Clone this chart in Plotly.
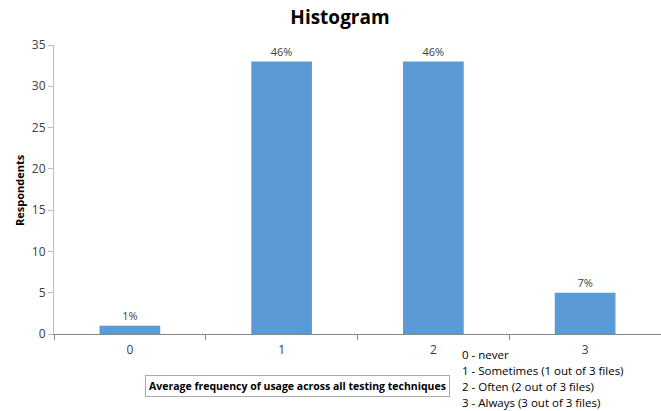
import plotly.graph_objects as go

categories = ["0", "1", "2", "3"]
respondents = [1, 33, 33, 5]
pct_labels = ["1%", "46%", "46%", "7%"]
legend_lines = [
    "0 - never",
    "1 - Sometimes (1 out of 3 files)",
    "2 - Often (2 out of 3 files)",
    "3 - Always (3 out of 3 files)",
]
y_ticks = [0, 5, 10, 15, 20, 25, 30, 35]

FONT = "Open Sans, Liberation Sans, sans-serif"

fig = go.Figure()
fig.add_trace(go.Bar(
    x=categories, y=respondents, text=pct_labels, textposition="outside",
    textfont=dict(size=11, color="#404040", family=FONT),
    marker=dict(color="#5B9BD5", line=dict(width=0)), width=0.4,
    cliponaxis=False,
))

W, H = 661, 411
L, R, T, B = 54, 0, 45, 77
pw, ph = W - L - R, H - T - B

def px_to_paper(x, y):
    return (x - L) / pw, (H - B - y) / ph

annotations = []
for i, line in enumerate(legend_lines):
    xp, yp = px_to_paper(460, 354 + i * 16)
    annotations.append(dict(text=line, x=xp, y=yp, xref="paper", yref="paper",
                            xanchor="left", yanchor="middle", showarrow=False,
                            font=dict(size=11.5, color="#000000", family=FONT)))
xp, yp = px_to_paper(297, 386)
annotations.append(dict(text="<b>Average frequency of usage across all testing techniques</b>",
                        x=xp, y=yp, xref="paper", yref="paper", xanchor="center",
                        yanchor="middle", showarrow=False, bordercolor="#AAAAAA",
                        borderwidth=1, borderpad=3,
                        font=dict(size=10.5, color="#000000", family=FONT)))
xp, yp = px_to_paper(19, 190)
annotations.append(dict(text="<b>Respondents</b>", x=xp, y=yp, xref="paper", yref="paper",
                        xanchor="center", yanchor="middle", showarrow=False, textangle=-90,
                        font=dict(size=11, color="#000000", family=FONT)))

fig.update_layout(
    width=W, height=H, margin=dict(l=L, r=R, t=T, b=B, autoexpand=False),
    paper_bgcolor="white", plot_bgcolor="white",
    title=dict(text="<b>Histogram</b>", x=340 / W, xanchor="center", y=1 - 17 / H,
               yanchor="middle", font=dict(size=19, color="#000000", family=FONT)),
    showlegend=False, annotations=annotations,
    font=dict(family=FONT, color="#404040"),
)
fig.update_xaxes(type="category", range=[-0.5, 3.5], showline=True, linecolor="#868686",
                 linewidth=1, ticks="outside", tickson="boundaries", ticklen=5,
                 tickcolor="#868686", showgrid=False, automargin=False,
                 ticklabelstandoff=5,
                 tickfont=dict(size=12, color="#404040"))
fig.update_yaxes(range=[0, 35], tickvals=y_ticks, showline=True, linecolor="#BFBFBF",
                 linewidth=1, ticks="outside", ticklen=5, tickcolor="#BFBFBF",
                 showgrid=False, zeroline=False, automargin=False,
                 tickfont=dict(size=12, color="#404040"))

fig.write_html("out.html", config={"displayModeBar": False},
               post_script="document.body.style.margin='0';document.body.style.overflow='hidden';")
